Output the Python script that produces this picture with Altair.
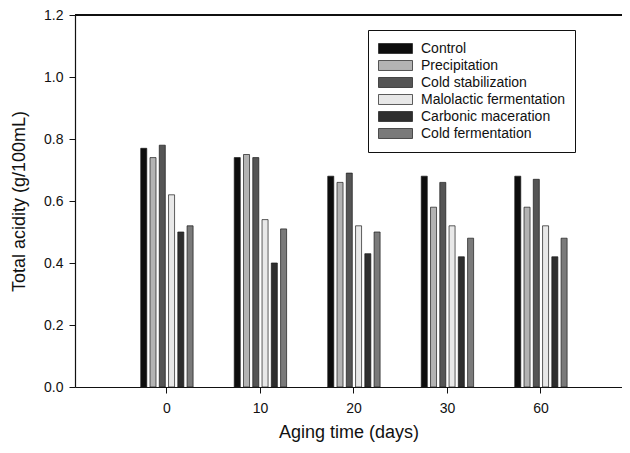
import altair as alt
import pandas as pd

days = ["0", "10", "20", "30", "60"]
treatments = ["Control", "Precipitation", "Cold stabilization",
              "Malolactic fermentation", "Carbonic maceration", "Cold fermentation"]
control = [0.77, 0.74, 0.68, 0.68, 0.68]
precipitation = [0.74, 0.75, 0.66, 0.58, 0.58]
cold_stab = [0.78, 0.74, 0.69, 0.66, 0.67]
malolactic = [0.62, 0.54, 0.52, 0.52, 0.52]
carbonic = [0.50, 0.40, 0.43, 0.42, 0.42]
cold_ferm = [0.52, 0.51, 0.50, 0.48, 0.48]
colors = ["#0d0d0d", "#b3b3b3", "#555555", "#e8e8e8", "#2e2e2e", "#7a7a7a"]

series = [control, precipitation, cold_stab, malolactic, carbonic, cold_ferm]
rows = []
for t, vals in zip(treatments, series):
    for d, v in zip(days, vals):
        rows.append({"day": d, "treatment": t, "acidity": v})
df = pd.DataFrame(rows)

FONT = "Liberation Sans"

bars = alt.Chart(df).mark_bar(stroke="#1a1a1a", strokeWidth=0.7).encode(
    x=alt.X("day:N", sort=days,
            scale=alt.Scale(paddingInner=0.44, paddingOuter=0.645, align=0.545),
            axis=alt.Axis(title="Aging time (days)", labelAngle=0,
                          labelFontSize=14, titleFontSize=18,
                          labelPadding=8, titlePadding=8, tickSize=6,
                          labelColor="#111", titleColor="#111",
                          domainColor="#111", tickColor="#111",
                          titleFontWeight="normal", labelFont=FONT, titleFont=FONT)),
    xOffset=alt.XOffset("treatment:N", sort=treatments,
                        scale=alt.Scale(paddingInner=0.35)),
    y=alt.Y("acidity:Q",
            scale=alt.Scale(domain=[0, 1.2]),
            axis=alt.Axis(title="Total acidity (g/100mL)",
                          values=[0, 0.2, 0.4, 0.6, 0.8, 1.0, 1.2], format=".1f",
                          grid=False, labelFontSize=14, titleFontSize=18,
                          tickSize=6, labelPadding=6, titlePadding=15,
                          labelColor="#111", titleColor="#111",
                          domainColor="#111", tickColor="#111",
                          titleFontWeight="normal", labelFont=FONT, titleFont=FONT)),
    color=alt.Color("treatment:N", sort=treatments,
                    scale=alt.Scale(domain=treatments, range=colors),
                    legend=alt.Legend(
                        title=None, orient="none", legendX=293, legendY=15,
                        symbolType="M-1,-0.294L1,-0.294L1,0.294L-1,0.294Z",
                        symbolSize=1156, symbolStrokeWidth=0.7,
                        symbolStrokeColor="#1a1a1a",
                        clipHeight=17,
                        labelFontSize=14, labelFont=FONT, labelColor="#111",
                        labelOffset=8, rowPadding=0,
                        padding=10, strokeColor="#111", fillColor="white",
                        cornerRadius=0)),
)

top_rule = alt.Chart(df).mark_rule(color="#111", strokeWidth=1.3).encode(
    y=alt.datum(1.2)
)

chart = alt.layer(bars, top_rule).properties(
    width=547, height=372,
    padding={"left": 67, "top": 7, "right": 0, "bottom": 58},
    autosize=alt.AutoSizeParams(type="none"),
).configure_view(stroke=None).configure_axis(domainWidth=1.2)

chart.save("out.html", embed_options={"renderer": "svg", "actions": False})
